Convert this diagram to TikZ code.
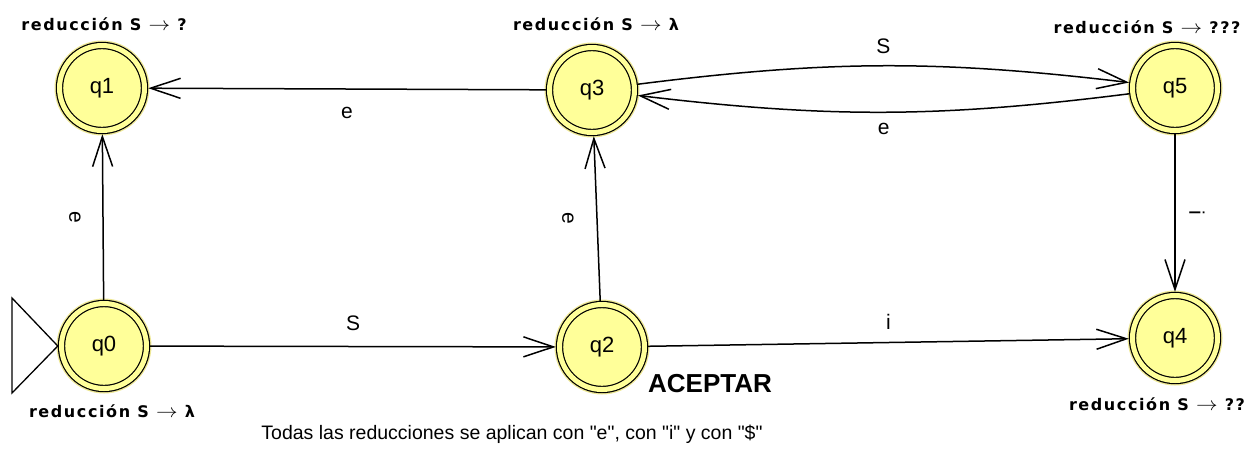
\documentclass[tikz,border=0pt]{standalone}
\usepackage{fontspec}
\setmainfont{Liberation Sans}
\newfontfamily\plainfont{Liberation Sans}
\newfontfamily\redfont[LetterSpace=10]{DejaVu Sans Bold}
\usetikzlibrary{arrows.meta}
\definecolor{stateyellow}{RGB}{255,255,153}
\definecolor{halo}{RGB}{238,232,150}
\newcommand{\redarr}{\scalebox{1.25}[1.1]{$\rightarrow$}}
\begin{document}
\begin{tikzpicture}[x=1pt,y=-1pt,
  state/.style={circle, draw=black, line width=1.2pt, fill=stateyellow,
    double=stateyellow, double distance=5pt, minimum size=85pt, inner sep=0pt,
    outer sep=3.7pt, font=\fontsize{22}{22}\selectfont,
    preaction={draw=halo, line width=10pt}},
  redlabel/.style={anchor=base, inner sep=0pt, font=\redfont\fontsize{16}{16}\selectfont},
  edgelabel/.style={inner sep=0pt, font=\fontsize{21}{21}\selectfont},
  trans/.style={draw=black, line width=1.5pt, -{Straight Barb[length=30pt,width=20pt]}}]
\useasboundingbox (0,0) rectangle (1258,451);

\node[state] (q0) at (104,346) {q0};
\node[state] (q1) at (102,88) {q1};
\node[state] (q2) at (602,347) {q2};
\node[state] (q3) at (592,90) {q3};
\node[state] (q5) at (1175,88) {q5};
\node[state] (q4) at (1175,338) {q4};

% initial state triangle
\coordinate (ta) at (12,298);
\coordinate (tb) at (12,393);
\draw[line width=1.3pt, line join=miter] (ta) -- (tb) -- (q0.west) -- cycle;

% transitions
\draw[trans] (q0) -- node[edgelabel, midway, xshift=-28pt, rotate=-90] (l01) {e} (q1);
\draw[trans] (q3) -- node[edgelabel, midway, below=17pt] (l31) {e} (q1);
\draw[trans] (q0) -- node[edgelabel, midway, above=15pt] (l02) {S} (q2);
\draw[trans] (q2) -- node[edgelabel, midway, xshift=-29pt, rotate=-90] (l23) {e} (q3);
\draw[trans] (q2) -- node[edgelabel, midway, above=12pt] (l24) {i} (q4);
\draw[trans] (q3) to[bend left=7] node[edgelabel, midway, above=11pt] (l35) {S} (q5);
\draw[trans] (q5) to[bend left=7] node[edgelabel, midway, below=10pt] (l53) {e} (q3);
\draw[trans] (q5) -- node[edgelabel, midway, xshift=22pt, rotate=-90] (l54) {i} (q4);

% state notes
\node[redlabel] (n1) at (104,30) {reducción S \redarr\ ?};
\node[redlabel] (n3) at (596,30) {reducción S \redarr\ λ};
\node[redlabel] (n5) at (1147,33) {reducción S \redarr\ ???};
\node[redlabel] (n0) at (112,417) {reducción S \redarr\ λ};
\node[redlabel] (n4) at (1157,410) {reducción S \redarr\ ??};

\node[anchor=base, inner sep=0pt, font=\bfseries\fontsize{26}{26}\selectfont] (acc) at (710,392) {ACEPTAR};

\node[anchor=base, inner sep=0pt, font=\plainfont\fontsize{19.5}{19.5}\selectfont] (note) at (512,439)
  {Todas las reducciones se aplican con "e", con "i" y con "\$"};
\end{tikzpicture}
\end{document}
